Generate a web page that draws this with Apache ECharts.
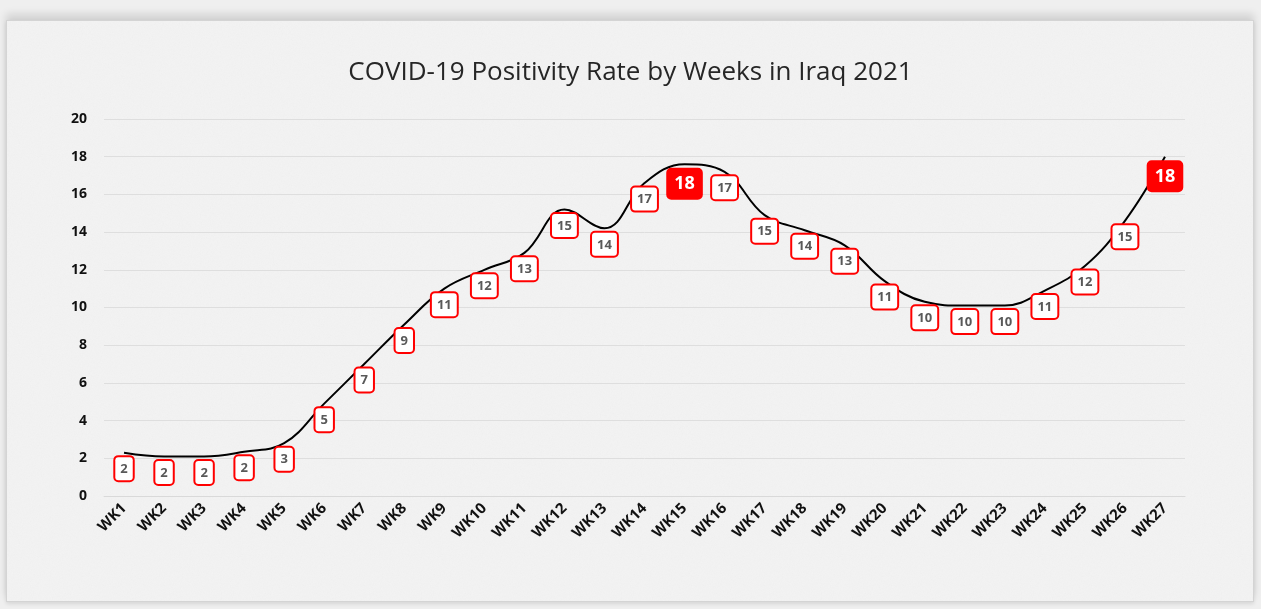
<!DOCTYPE html>
<html>
<head>
<meta charset="utf-8">
<script src="https://cdn.jsdelivr.net/npm/echarts@6/dist/echarts.min.js"></script>
<style>
  html, body { margin: 0; padding: 0; background: #efefef; }
  #frame {
    position: absolute; left: 6px; top: 20px; width: 1246px; height: 580px;
    background-color: #f4f4f4;
    background-image: url("data:image/svg+xml;utf8,<svg xmlns='http://www.w3.org/2000/svg' width='200' height='200'><filter id='n'><feTurbulence type='fractalNoise' baseFrequency='0.9' numOctaves='2' stitchTiles='stitch'/><feColorMatrix values='0 0 0 0 0.5  0 0 0 0 0.5  0 0 0 0 0.5  0 0 0 0.10 0'/></filter><rect width='200' height='200' filter='url(%23n)'/></svg>");
    border: 1px solid #d4d4d4;
    box-shadow: 0 -6px 8px rgba(0,0,0,0.12), 0 2px 4px rgba(0,0,0,0.1);
  }
  #chart { position: absolute; left: 0; top: 0; width: 1261px; height: 609px; }
</style>
</head>
<body>
<div id="frame"></div>
<div id="chart"></div>
<script>
const weeks = ['WK1', 'WK2', 'WK3', 'WK4', 'WK5', 'WK6', 'WK7', 'WK8', 'WK9', 'WK10',
  'WK11', 'WK12', 'WK13', 'WK14', 'WK15', 'WK16', 'WK17', 'WK18', 'WK19', 'WK20',
  'WK21', 'WK22', 'WK23', 'WK24', 'WK25', 'WK26', 'WK27']
const positivity = [2.3, 2.1, 2.1, 2.35, 2.8, 4.9, 7.0, 9.1, 11.0, 12.0,
  12.9, 15.2, 14.2, 16.6, 17.6, 17.2, 14.9, 14.1, 13.3, 11.4,
  10.3, 10.1, 10.1, 10.9, 12.2, 14.6, 18.0]
const highlighted = ['WK15', 'WK27']
const yTicks = { min: 0, max: 20, interval: 2 }

const font = '"Open Sans", "DejaVu Sans", sans-serif'

const normal_label = {
  show: true,
  position: 'bottom',
  distance: 4,
  formatter: p => Math.round(p.value),
  fontFamily: font,
  fontWeight: 'bold',
  fontSize: 13,
  lineHeight: 16,
  color: '#595959',
  backgroundColor: '#ffffff',
  borderColor: '#ff0000',
  borderWidth: 2,
  borderRadius: 3,
  padding: [4, 5, 3, 5]
}

const big_label = {
  show: true,
  position: 'bottom',
  distance: 4,
  fontFamily: font,
  fontWeight: 'bold',
  fontSize: 18,
  lineHeight: 21,
  color: '#ffffff',
  backgroundColor: '#ff0000',
  borderColor: '#ff0000',
  borderWidth: 1,
  borderRadius: 4,
  padding: [5, 7, 4, 7]
}

const seriesData = positivity.map((v, i) => {
  if (highlighted.indexOf(weeks[i]) >= 0) {
    return { value: v, label: big_label }
  }
  return v
})

const chart = echarts.init(document.getElementById('chart'))
chart.setOption({
  animation: false,
  title: {
    text: 'COVID-19 Positivity Rate by Weeks in Iraq 2021',
    left: 'center',
    top: 55,
    textStyle: {
      fontFamily: font,
      fontWeight: 'normal',
      fontSize: 26,
      color: '#262626'
    }
  },
  grid: {
    left: 104,
    right: 76,
    top: 119,
    bottom: 113
  },
  xAxis: {
    type: 'category',
    data: weeks,
    boundaryGap: true,
    axisLine: { lineStyle: { color: '#d9d9d9', width: 1 } },
    axisTick: { show: false },
    axisLabel: {
      rotate: 45,
      margin: 10,
      fontFamily: font,
      fontWeight: 'bold',
      fontSize: 15,
      color: '#111'
    }
  },
  yAxis: {
    type: 'value',
    min: yTicks.min,
    max: yTicks.max,
    interval: yTicks.interval,
    axisLine: { show: false },
    axisTick: { show: false },
    splitLine: { lineStyle: { color: '#dedede', width: 1 } },
    axisLabel: {
      margin: 17,
      fontFamily: font,
      fontWeight: 'bold',
      fontSize: 14,
      color: '#111'
    }
  },
  series: [
    {
      type: 'line',
      data: seriesData,
      smooth: 0.4,
      showSymbol: true,
      symbol: 'circle',
      symbolSize: 1,
      itemStyle: { color: 'rgba(0,0,0,0)' },
      lineStyle: { color: '#000', width: 2 },
      label: normal_label,
      labelLayout: { hideOverlap: false }
    }
  ]
})
</script>
</body>
</html>
